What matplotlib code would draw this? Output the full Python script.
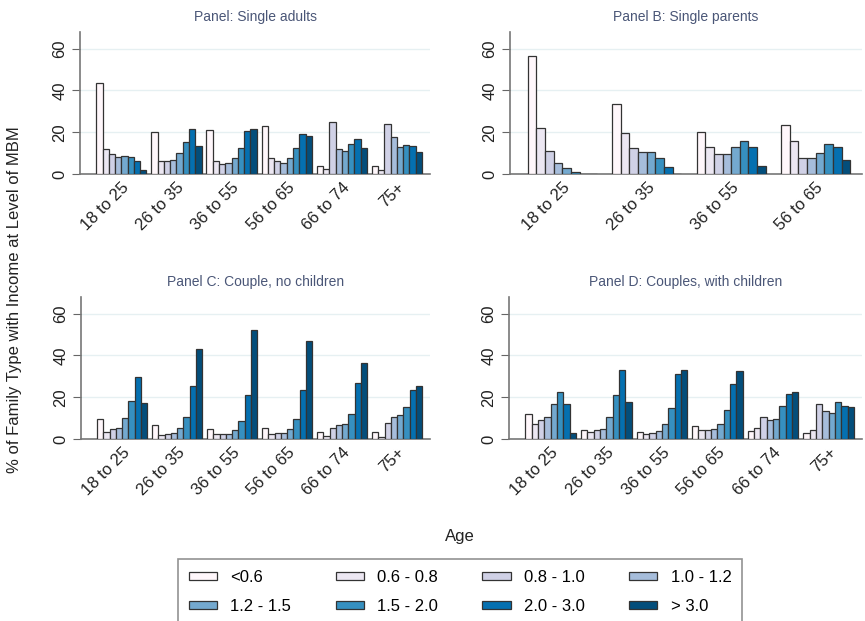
import numpy as np
import matplotlib
matplotlib.use('Agg')
import matplotlib.pyplot as plt
from matplotlib.patches import Patch

plt.rcParams['font.family'] = ['Liberation Sans', 'DejaVu Sans']

# Income-to-MBM categories and colours
categories = ['<0.6', '0.6 - 0.8', '0.8 - 1.0', '1.0 - 1.2',
              '1.2 - 1.5', '1.5 - 2.0', '2.0 - 3.0', '> 3.0']
colors = ['#fff7fb', '#ece7f2', '#d0d1e6', '#a6bddb',
          '#74a9cf', '#3690c0', '#0570b0', '#034e7b']

ages_full = ['18 to 25', '26 to 35', '36 to 55', '56 to 65', '66 to 74', '75+']
ages_parents = ['18 to 25', '26 to 35', '36 to 55', '56 to 65']

# rows = age group, columns = income category
single_adults = [
    [43.5, 12.0, 9.5, 8.0, 8.5, 8.0, 6.0, 2.0],
    [20.0, 6.0, 6.0, 6.5, 10.0, 15.5, 21.5, 13.5],
    [21.0, 6.0, 5.0, 5.5, 7.5, 12.5, 20.5, 21.5],
    [23.0, 7.5, 6.0, 5.5, 7.5, 12.5, 19.0, 18.0],
    [4.0, 2.5, 25.0, 12.0, 11.0, 14.5, 17.0, 12.5],
    [4.0, 2.0, 24.0, 17.5, 13.0, 14.0, 13.5, 10.5],
]
single_parents = [
    [56.5, 22.0, 11.0, 5.5, 3.0, 0.8, 0.0, 0.0],
    [33.3, 19.5, 12.6, 10.5, 10.5, 7.7, 3.3, 0.2],
    [20.0, 13.0, 9.5, 9.5, 13.0, 16.0, 13.0, 4.0],
    [23.5, 16.0, 7.5, 7.5, 10.2, 14.3, 13.0, 6.5],
]
couple_no_kids = [
    [9.7, 3.4, 4.6, 5.4, 10.2, 18.2, 29.8, 17.3],
    [6.6, 1.9, 2.3, 2.9, 5.4, 10.7, 25.6, 43.3],
    [5.0, 2.2, 2.3, 2.4, 4.3, 8.6, 21.3, 52.3],
    [5.2, 2.4, 3.0, 3.0, 4.9, 9.7, 23.4, 46.9],
    [3.3, 1.5, 5.4, 6.6, 7.1, 12.1, 26.6, 36.2],
    [3.5, 1.1, 7.9, 10.4, 11.5, 15.2, 23.4, 25.5],
]
couple_kids = [
    [12.0, 7.2, 9.3, 10.6, 16.7, 22.6, 16.9, 2.9],
    [4.1, 3.3, 4.1, 4.9, 10.4, 21.2, 33.0, 17.6],
    [3.5, 2.6, 3.1, 3.6, 7.0, 14.7, 30.9, 33.0],
    [6.0, 4.1, 4.1, 4.6, 7.3, 13.9, 26.2, 32.4],
    [3.6, 5.4, 10.4, 9.1, 9.7, 15.8, 21.6, 22.4],
    [2.9, 4.1, 16.9, 13.2, 12.6, 17.5, 15.8, 15.2],
]

title_color = '#4a5677'
W, H = 865, 621
fig = plt.figure(figsize=(W / 100, H / 100), dpi=100)


def draw_panel(box, data, labels, title, group_w, xlim):
    left, right, top, bottom = box
    ax = fig.add_axes([left / W, 1 - bottom / H, (right - left) / W, (bottom - top) / H])
    data = np.array(data)
    n = len(categories)
    bw = group_w / n
    x = np.arange(len(labels))
    for k in range(n):
        ax.bar(x - group_w / 2 + bw * (k + 0.5), data[:, k], width=bw,
               color=colors[k], edgecolor='#333333', linewidth=0.9, zorder=3)
    ax.set_xlim(*xlim)
    ax.set_ylim(0, 68)
    ax.set_yticks([0, 20, 40, 60])
    ax.set_yticklabels(['0', '20', '40', '60'], rotation=90, va='center')
    ax.set_xticks(x)
    ax.set_xticklabels(labels, rotation=45, ha='right', rotation_mode='anchor')
    ax.tick_params(axis='x', length=0, labelsize=12, pad=4, colors='#222222')
    ax.tick_params(axis='y', length=6, labelsize=12, colors='#222222', color='#666666', pad=3)
    ax.yaxis.grid(True, color='#e6f0f2', linewidth=1, zorder=0)
    ax.set_axisbelow(True)
    for s in ['top', 'right']:
        ax.spines[s].set_visible(False)
    for s in ['left', 'bottom']:
        ax.spines[s].set_color('#777777')
        ax.spines[s].set_linewidth(1.2)
    ax.set_title(title, fontsize=10, color=title_color, pad=8)
    return ax


draw_panel((80, 430, 32, 174), single_adults, ages_full, 'Panel: Single adults', 0.91, (-0.75, 5.6))
draw_panel((510, 862, 32, 174), single_parents, ages_parents, 'Panel B: Single parents', 0.82, (-0.62, 3.55))
draw_panel((81, 430, 297, 439), couple_no_kids, ages_full, 'Panel C: Couple, no children', 0.91, (-0.75, 5.6))
draw_panel((509, 862, 297, 439), couple_kids, ages_full, 'Panel D: Couples, with children', 0.91, (-0.75, 5.6))

fig.text(15 / W, 1 - 300 / H, '% of Family Type with Income at Level of MBM',
         rotation=90, ha='center', va='center', fontsize=12, color='#222222')
fig.text(460 / W, 1 - 537 / H, 'Age', ha='center', va='center', fontsize=12, color='#222222')

# legend filled row by row (matplotlib fills column by column)
order = [0, 4, 1, 5, 2, 6, 3, 7]
handles = [Patch(facecolor=colors[i], edgecolor='#333333', linewidth=0.9) for i in order]
labels = [categories[i] for i in order]
leg = fig.legend(handles, labels, ncol=4, loc='upper left',
                 bbox_to_anchor=(178 / W, 1 - 559 / H), fontsize=12,
                 frameon=True, fancybox=False, handlelength=1.7, handleheight=0.3,
                 handletextpad=0.8, columnspacing=2.65, labelspacing=0.85,
                 borderpad=0.65, borderaxespad=0)
leg.get_frame().set_edgecolor('#777777')
leg.get_frame().set_linewidth(1.2)

fig.savefig('out.png', dpi=100)
